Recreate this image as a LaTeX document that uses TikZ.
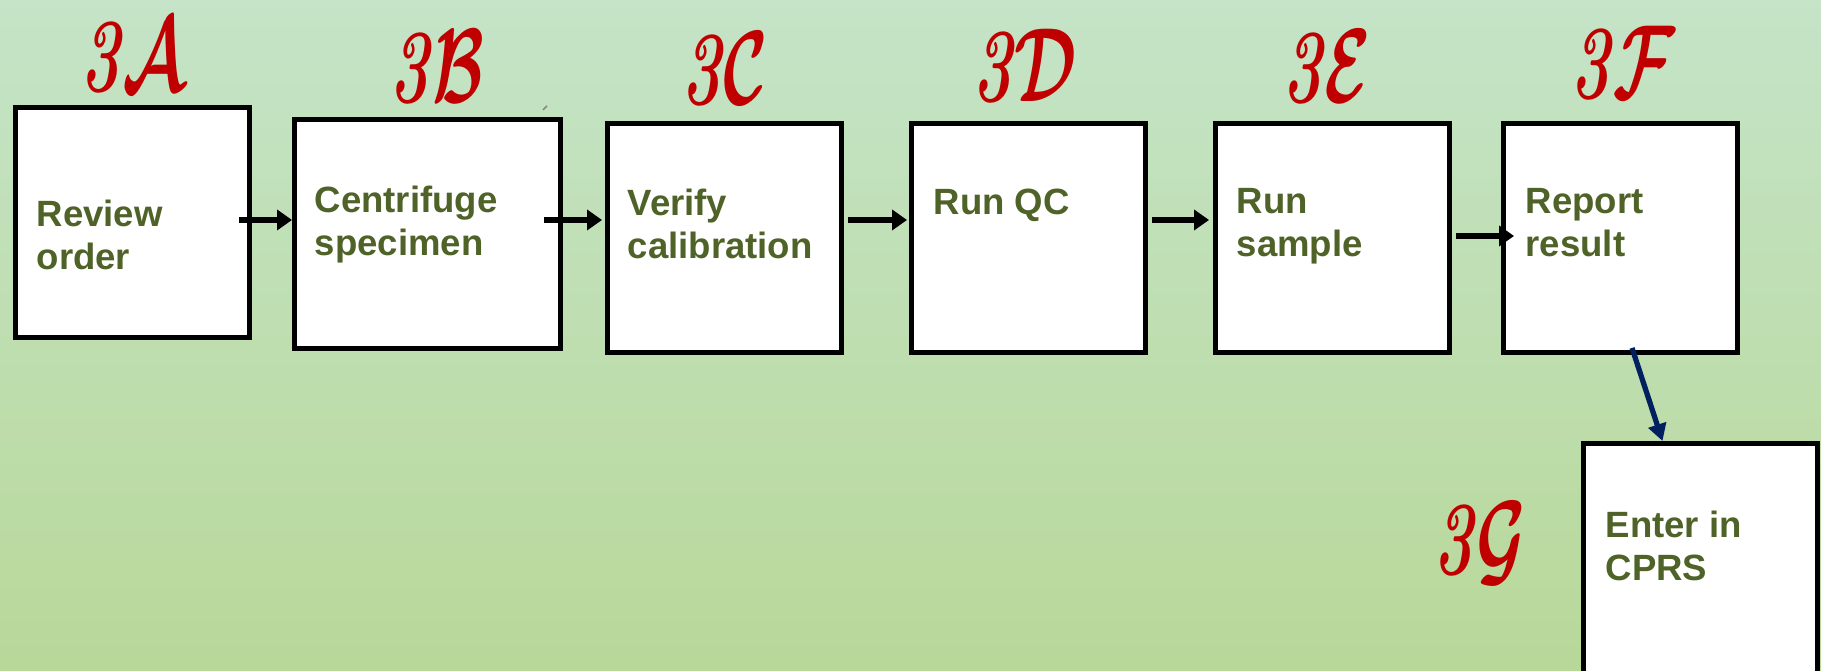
\documentclass[tikz,border=0pt]{standalone}
\usepackage{fix-cm}
\usepackage{fontspec}
\setsansfont{Liberation Sans}
\usetikzlibrary{
    arrows.meta,
    positioning
}
\definecolor{bgtop}{HTML}{C5E4C8}
\definecolor{bgbottom}{HTML}{B8D899}
\definecolor{stepgreen}{HTML}{4F6228}
\definecolor{stepred}{HTML}{C00000}
\definecolor{linknavy}{HTML}{002060}
\tikzset{
    stepbox/.style={draw=black, fill=white, line width=1.4pt,
                    minimum width=2.34cm, minimum height=2.29cm, inner sep=0pt},
    steptext/.style={font=\sffamily\bfseries\fontsize{10.4}{12.2}\selectfont,
                     text=stepgreen, align=left, inner sep=0pt, anchor=north west},
    steptag/.style={font=\fontsize{30}{30}\selectfont\bfseries\boldmath, text=stepred,
                    inner sep=0pt, anchor=base},
    flow/.style={-{Triangle[length=1.5mm,width=2.0mm]}, line width=1.7pt},
    link/.style={-{Triangle[length=1.7mm,width=1.8mm]}, line width=1.5pt, draw=linknavy},
}
\newcommand{\steptagname}[1]{\scalebox{0.64}[1]{\textit{3}$\mathcal{#1}$}}

\begin{document}
\begin{tikzpicture}
    \useasboundingbox (0,0) rectangle (18.21,6.71);
    \shade[top color=bgtop, bottom color=bgbottom] (0,0) rectangle (18.21,6.71);

    %% Boxes
        \node[stepbox, minimum height=2.30cm] (s3a) at (1.325,4.485) {};
        \node[stepbox, minimum width=2.66cm] (s3b) at (4.275,4.37) {};
        \node[stepbox] (s3c) at (7.245,4.33) {};
        \node[stepbox] (s3d) at (10.285,4.33) {};
        \node[stepbox] (s3e) at (13.325,4.33) {};
        \node[stepbox] (s3f) at (16.205,4.33) {};
        \node[stepbox, minimum height=2.4cm] (s3g) at (17.005,1.075) {};

    %% Box texts
        \node[steptext, below right=9.4mm and 2.3mm of s3a.north west] (t3a) {Review\\order};
        \node[steptext, below right=6.8mm and 2.2mm of s3b.north west] (t3b) {Centrifuge\\specimen};
        \node[steptext, below right=6.7mm and 2.2mm of s3c.north west] (t3c) {Verify\\calibration};
        \node[steptext, below right=6.7mm and 2.4mm of s3d.north west] (t3d) {Run QC};
        \node[steptext, below right=6.7mm and 2.3mm of s3e.north west] (t3e) {Run\\sample};
        \node[steptext, below right=6.7mm and 2.4mm of s3f.north west] (t3f) {Report\\result};
        \node[steptext, below right=6.9mm and 2.4mm of s3g.north west] (t3g) {Enter in\\CPRS};

    %% Step tags
        \node[steptag] (l3a) at (1.325,5.79) {\steptagname{A}};
        \node[steptag] (l3b) at (4.37,5.68) {\steptagname{B}};
        \node[steptag] (l3c) at (7.245,5.66) {\steptagname{C}};
        \node[steptag] (l3d) at (10.245,5.69) {\steptagname{D}};
        \node[steptag] (l3e) at (13.27,5.68) {\steptagname{E}};
        \node[steptag] (l3f) at (16.23,5.72) {\steptagname{F}};
        \node[steptag] (l3g) at (14.80,0.96) {\steptagname{G}};

    %% Arrows
        \coordinate (row) at (0,4.51);
        \coordinate (rowlow) at (0,4.35);
        \draw[flow, shorten <=-1.3mm] (s3a.east |- row) -- (s3b.west |- row);
        \draw[flow, shorten <=-1.9mm, shorten >=0.3mm] (s3b.east |- row) -- (s3c.west |- row);
        \draw[flow, shorten <=0.4mm, shorten >=0.2mm] (s3c.east |- row) -- (s3d.west |- row);
        \draw[flow, shorten <=0.4mm, shorten >=0.4mm] (s3d.east |- row) -- (s3e.west |- row);
        \draw[flow, shorten <=0.4mm, shorten >=-1.3mm] (s3e.east |- rowlow) -- (s3f.west |- rowlow);
        \draw[link] ([shift={(1.15mm,0.7mm)}]s3f.south) -- ([xshift=-3.8mm]s3g.north);

    %% small stray stroke above the second box
        \draw[gray, line width=0.4pt] (5.43,5.61) -- (5.47,5.65);
\end{tikzpicture}
\end{document}
